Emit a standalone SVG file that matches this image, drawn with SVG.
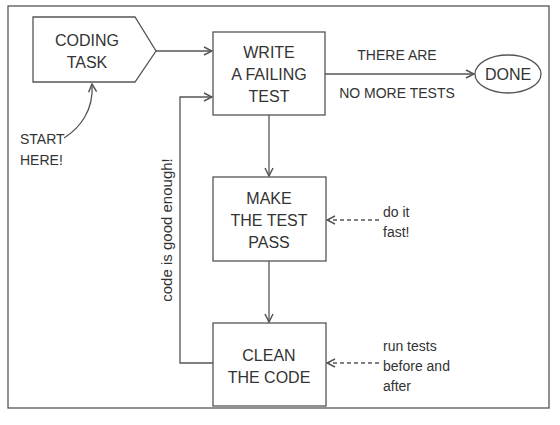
<svg xmlns="http://www.w3.org/2000/svg" width="560" height="425" viewBox="0 0 560 425">
<style>
.s{fill:none;stroke:#555;stroke-width:1.3}
.b{fill:#fff;stroke:#555;stroke-width:1.3}
.t{font-family:"Liberation Sans",Arial,sans-serif;font-size:16px;fill:#333;text-anchor:middle}
.m{font-family:"Liberation Sans",Arial,sans-serif;font-size:14px;fill:#333}
.d{stroke-dasharray:4 3}
</style>
<defs>
<marker id="ah" viewBox="0 0 10 10" refX="9" refY="5" markerWidth="10" markerHeight="10" markerUnits="userSpaceOnUse" orient="auto">
<path d="M1,1 L9,5 L1,9" fill="none" stroke="#555" stroke-width="1.5"/>
</marker>
</defs>
<rect x="0" y="0" width="560" height="425" fill="#fff"/>
<rect x="8" y="6" width="541" height="402" fill="#fff" stroke="#555" stroke-width="1.3"/>
<g id="connectors">
<line class="s" x1="156" y1="51" x2="212" y2="51" marker-end="url(#ah)"/>
<path class="s" d="M64,138 C80,128 94,110 92,84" marker-end="url(#ah)"/>
<polyline class="s" points="213,363 180,363 180,97 212,97" marker-end="url(#ah)"/>
<line class="s" x1="325" y1="74" x2="474" y2="74" marker-end="url(#ah)"/>
<line class="s" x1="269" y1="115" x2="269" y2="176" marker-end="url(#ah)"/>
<line class="s" x1="269" y1="261" x2="269" y2="322" marker-end="url(#ah)"/>
<line class="s d" x1="379" y1="220" x2="327" y2="220" marker-end="url(#ah)"/>
<line class="s d" x1="379" y1="363" x2="327" y2="363" marker-end="url(#ah)"/>
<text class="m" style="font-size:15px" transform="translate(172,230) rotate(-90)" text-anchor="middle">code is good enough!</text>
<text class="m" x="397" y="60" text-anchor="middle">THERE ARE</text>
<text class="m" x="397" y="98" text-anchor="middle">NO MORE TESTS</text>
</g>
<g id="coding-task">
<polygon class="b" points="33,17 135,17 156,51 135,82 33,82"/>
<text class="t" x="87" y="46">CODING</text>
<text class="t" x="87" y="68">TASK</text>
</g>
<g id="start-here">
<text class="m" x="20" y="144">START</text>
<text class="m" x="20" y="165">HERE!</text>
</g>
<g id="write">
<rect class="b" x="213" y="32" width="112" height="83"/>
<text class="t" x="269" y="58">WRITE</text>
<text class="t" x="269" y="80">A FAILING</text>
<text class="t" x="269" y="102">TEST</text>
</g>
<g id="done">
<ellipse class="b" cx="508" cy="74" rx="33" ry="19"/>
<text class="t" x="508" y="80">DONE</text>
</g>
<g id="make">
<rect class="b" x="213" y="177" width="113" height="84"/>
<text class="t" x="269" y="204">MAKE</text>
<text class="t" x="269" y="226">THE TEST</text>
<text class="t" x="269" y="248">PASS</text>
</g>
<g id="clean">
<rect class="b" x="213" y="323" width="113" height="83"/>
<text class="t" x="269" y="361">CLEAN</text>
<text class="t" x="269" y="383">THE CODE</text>
</g>
<g id="note-fast">
<text class="m" x="383" y="217">do it</text>
<text class="m" x="383" y="237">fast!</text>
</g>
<g id="note-tests">
<text class="m" x="383" y="351">run tests</text>
<text class="m" x="383" y="371">before and</text>
<text class="m" x="383" y="391">after</text>
</g>
</svg>
